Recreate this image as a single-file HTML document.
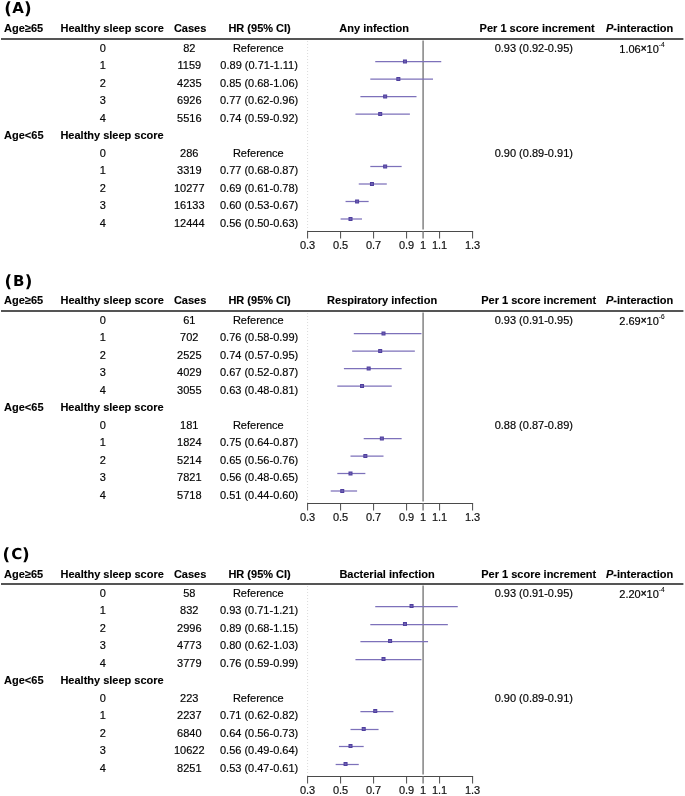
<!DOCTYPE html>
<html><head><meta charset="utf-8"><style>
html,body{margin:0;padding:0;background:#fff;}
body{width:685px;height:796px;overflow:hidden;}
svg{display:block;}
text{font-family:"Liberation Sans",Arial,sans-serif;fill:#000;}
.lab{font-family:"DejaVu Sans","Liberation Sans",sans-serif;font-weight:bold;font-size:15px;fill:#000;text-rendering:geometricPrecision;}
.h{font-weight:bold;font-size:11px;stroke:#000;stroke-width:0.12px;}
.b{font-size:11px;stroke:#111;stroke-width:0.18px;}
.t{font-size:11px;fill:#111;stroke:#111;stroke-width:0.18px;}
.par{font-size:16.7px;}
.m{text-anchor:middle;}
.x{font-size:10px;stroke-width:0.45px;}
.sup{font-size:6.5px;stroke-width:0.1px;}
</style></head><body>
<svg width="685" height="796" viewBox="0 0 685 796">
<rect width="685" height="796" fill="#fff"/>
<g transform="translate(0,0)">
<text class="lab par" x="4.3" y="14.0">(</text>
<text class="lab" x="12.2" y="12.8">A</text>
<text class="lab par" x="23.9" y="14.0">)</text>
<text class="h" x="4.1" y="32">Age≥65</text>
<text class="h m" x="112.2" y="32">Healthy sleep score</text>
<text class="h m" x="190.1" y="32">Cases</text>
<text class="h m" x="259.6" y="32">HR (95% CI)</text>
<text class="h" x="339.3" y="32">Any infection</text>
<text class="h m" x="537.1" y="32">Per 1 score increment</text>
<text class="h" x="606.0" y="32"><tspan font-style="italic">P</tspan>-interaction</text>
<rect x="1" y="38" width="682.4" height="2" fill="#555"/>
<line x1="307.6" y1="41" x2="307.6" y2="231.5" stroke="#d0d0d0" stroke-width="0.8" stroke-dasharray="1 2"/>
<line x1="423.1" y1="40.5" x2="423.1" y2="229.5" stroke="#8a8a8a" stroke-width="1.6"/>
<line x1="307.1" y1="231.5" x2="473.1" y2="231.5" stroke="#4a4a4a" stroke-width="1"/>
<line x1="307.6" y1="231.5" x2="307.6" y2="238.5" stroke="#4a4a4a" stroke-width="1"/>
<text class="t m" x="307.6" y="248.5">0.3</text>
<line x1="340.6" y1="231.5" x2="340.6" y2="238.5" stroke="#4a4a4a" stroke-width="1"/>
<text class="t m" x="340.6" y="248.5">0.5</text>
<line x1="373.6" y1="231.5" x2="373.6" y2="238.5" stroke="#4a4a4a" stroke-width="1"/>
<text class="t m" x="373.6" y="248.5">0.7</text>
<line x1="406.6" y1="231.5" x2="406.6" y2="238.5" stroke="#4a4a4a" stroke-width="1"/>
<text class="t m" x="406.6" y="248.5">0.9</text>
<line x1="423.1" y1="231.5" x2="423.1" y2="238.5" stroke="#8a8a8a" stroke-width="1.6"/>
<text class="t m" x="423.1" y="248.5">1</text>
<line x1="439.6" y1="231.5" x2="439.6" y2="238.5" stroke="#4a4a4a" stroke-width="1"/>
<text class="t m" x="439.6" y="248.5">1.1</text>
<line x1="472.6" y1="231.5" x2="472.6" y2="238.5" stroke="#4a4a4a" stroke-width="1"/>
<text class="t m" x="472.6" y="248.5">1.3</text>
<text class="b m" x="102.7" y="52">0</text>
<text class="b m" x="189.3" y="52">82</text>
<text class="b m" x="258.3" y="52">Reference</text>
<text class="b m" x="533.8" y="52">0.93 (0.92-0.95)</text>
<text class="b" x="619.3" y="52.9">1.06<tspan class="x" dy="-0.9">×</tspan><tspan dy="0.9">10</tspan><tspan class="sup" dy="-5.8">-4</tspan></text>
<text class="b m" x="102.7" y="69">1</text>
<text class="b m" x="189.3" y="69">1159</text>
<text class="b m" x="259.1" y="69">0.89 (0.71-1.11)</text>
<line x1="375.25" y1="61.5" x2="441.25" y2="61.5" stroke="#7d71ba" stroke-width="1.25"/>
<rect x="403.45" y="60" width="3" height="3" fill="#6e60b2" stroke="#4f3f9e" stroke-width="1"/>
<text class="b m" x="102.7" y="87">2</text>
<text class="b m" x="189.3" y="87">4235</text>
<text class="b m" x="259.1" y="87">0.85 (0.68-1.06)</text>
<line x1="370.3" y1="79" x2="433" y2="79" stroke="#7d71ba" stroke-width="1.25"/>
<rect x="396.85" y="77.5" width="3" height="3" fill="#6e60b2" stroke="#4f3f9e" stroke-width="1"/>
<text class="b m" x="102.7" y="104">3</text>
<text class="b m" x="189.3" y="104">6926</text>
<text class="b m" x="259.1" y="104">0.77 (0.62-0.96)</text>
<line x1="360.4" y1="96.5" x2="416.5" y2="96.5" stroke="#7d71ba" stroke-width="1.25"/>
<rect x="383.65" y="95" width="3" height="3" fill="#6e60b2" stroke="#4f3f9e" stroke-width="1"/>
<text class="b m" x="102.7" y="122">4</text>
<text class="b m" x="189.3" y="122">5516</text>
<text class="b m" x="259.1" y="122">0.74 (0.59-0.92)</text>
<line x1="355.45" y1="114" x2="409.9" y2="114" stroke="#7d71ba" stroke-width="1.25"/>
<rect x="378.7" y="112.5" width="3" height="3" fill="#6e60b2" stroke="#4f3f9e" stroke-width="1"/>
<text class="h" x="4.1" y="139">Age&lt;65</text>
<text class="h" x="60.400000000000006" y="139">Healthy sleep score</text>
<text class="b m" x="102.7" y="157">0</text>
<text class="b m" x="189.3" y="157">286</text>
<text class="b m" x="258.3" y="157">Reference</text>
<text class="b m" x="533.8" y="157">0.90 (0.89-0.91)</text>
<text class="b m" x="102.7" y="174">1</text>
<text class="b m" x="189.3" y="174">3319</text>
<text class="b m" x="259.1" y="174">0.77 (0.68-0.87)</text>
<line x1="370.3" y1="166.5" x2="401.65" y2="166.5" stroke="#7d71ba" stroke-width="1.25"/>
<rect x="383.65" y="165" width="3" height="3" fill="#6e60b2" stroke="#4f3f9e" stroke-width="1"/>
<text class="b m" x="102.7" y="192">2</text>
<text class="b m" x="189.3" y="192">10277</text>
<text class="b m" x="259.1" y="192">0.69 (0.61-0.78)</text>
<line x1="358.75" y1="184" x2="386.8" y2="184" stroke="#7d71ba" stroke-width="1.25"/>
<rect x="370.45" y="182.5" width="3" height="3" fill="#6e60b2" stroke="#4f3f9e" stroke-width="1"/>
<text class="b m" x="102.7" y="209">3</text>
<text class="b m" x="189.3" y="209">16133</text>
<text class="b m" x="259.1" y="209">0.60 (0.53-0.67)</text>
<line x1="345.55" y1="201.5" x2="368.65" y2="201.5" stroke="#7d71ba" stroke-width="1.25"/>
<rect x="355.6" y="200" width="3" height="3" fill="#6e60b2" stroke="#4f3f9e" stroke-width="1"/>
<text class="b m" x="102.7" y="227">4</text>
<text class="b m" x="189.3" y="227">12444</text>
<text class="b m" x="259.1" y="227">0.56 (0.50-0.63)</text>
<line x1="340.6" y1="219" x2="362.05" y2="219" stroke="#7d71ba" stroke-width="1.25"/>
<rect x="349" y="217.5" width="3" height="3" fill="#6e60b2" stroke="#4f3f9e" stroke-width="1"/>
</g>
<g transform="translate(0,272)">
<text class="lab par" x="4.6" y="14.9">(</text>
<text class="lab" x="13.1" y="13.9">B</text>
<text class="lab par" x="24.7" y="14.9">)</text>
<text class="h" x="4.1" y="32">Age≥65</text>
<text class="h m" x="112.2" y="32">Healthy sleep score</text>
<text class="h m" x="190.1" y="32">Cases</text>
<text class="h m" x="259.6" y="32">HR (95% CI)</text>
<text class="h" x="327.1" y="32">Respiratory infection</text>
<text class="h m" x="538.7" y="32">Per 1 score increment</text>
<text class="h" x="606.0" y="32"><tspan font-style="italic">P</tspan>-interaction</text>
<rect x="1" y="38" width="682.4" height="2" fill="#555"/>
<line x1="307.6" y1="41" x2="307.6" y2="231.5" stroke="#d0d0d0" stroke-width="0.8" stroke-dasharray="1 2"/>
<line x1="423.1" y1="40.5" x2="423.1" y2="229.5" stroke="#8a8a8a" stroke-width="1.6"/>
<line x1="307.1" y1="231.5" x2="473.1" y2="231.5" stroke="#4a4a4a" stroke-width="1"/>
<line x1="307.6" y1="231.5" x2="307.6" y2="238.5" stroke="#4a4a4a" stroke-width="1"/>
<text class="t m" x="307.6" y="248.5">0.3</text>
<line x1="340.6" y1="231.5" x2="340.6" y2="238.5" stroke="#4a4a4a" stroke-width="1"/>
<text class="t m" x="340.6" y="248.5">0.5</text>
<line x1="373.6" y1="231.5" x2="373.6" y2="238.5" stroke="#4a4a4a" stroke-width="1"/>
<text class="t m" x="373.6" y="248.5">0.7</text>
<line x1="406.6" y1="231.5" x2="406.6" y2="238.5" stroke="#4a4a4a" stroke-width="1"/>
<text class="t m" x="406.6" y="248.5">0.9</text>
<line x1="423.1" y1="231.5" x2="423.1" y2="238.5" stroke="#8a8a8a" stroke-width="1.6"/>
<text class="t m" x="423.1" y="248.5">1</text>
<line x1="439.6" y1="231.5" x2="439.6" y2="238.5" stroke="#4a4a4a" stroke-width="1"/>
<text class="t m" x="439.6" y="248.5">1.1</text>
<line x1="472.6" y1="231.5" x2="472.6" y2="238.5" stroke="#4a4a4a" stroke-width="1"/>
<text class="t m" x="472.6" y="248.5">1.3</text>
<text class="b m" x="102.7" y="52">0</text>
<text class="b m" x="189.3" y="52">61</text>
<text class="b m" x="258.3" y="52">Reference</text>
<text class="b m" x="533.8" y="52">0.93 (0.91-0.95)</text>
<text class="b" x="619.3" y="52.9">2.69<tspan class="x" dy="-0.9">×</tspan><tspan dy="0.9">10</tspan><tspan class="sup" dy="-5.8">-6</tspan></text>
<text class="b m" x="102.7" y="69">1</text>
<text class="b m" x="189.3" y="69">702</text>
<text class="b m" x="259.1" y="69">0.76 (0.58-0.99)</text>
<line x1="353.8" y1="61.5" x2="421.45" y2="61.5" stroke="#7d71ba" stroke-width="1.25"/>
<rect x="382" y="60" width="3" height="3" fill="#6e60b2" stroke="#4f3f9e" stroke-width="1"/>
<text class="b m" x="102.7" y="87">2</text>
<text class="b m" x="189.3" y="87">2525</text>
<text class="b m" x="259.1" y="87">0.74 (0.57-0.95)</text>
<line x1="352.15" y1="79" x2="414.85" y2="79" stroke="#7d71ba" stroke-width="1.25"/>
<rect x="378.7" y="77.5" width="3" height="3" fill="#6e60b2" stroke="#4f3f9e" stroke-width="1"/>
<text class="b m" x="102.7" y="104">3</text>
<text class="b m" x="189.3" y="104">4029</text>
<text class="b m" x="259.1" y="104">0.67 (0.52-0.87)</text>
<line x1="343.9" y1="96.5" x2="401.65" y2="96.5" stroke="#7d71ba" stroke-width="1.25"/>
<rect x="367.15" y="95" width="3" height="3" fill="#6e60b2" stroke="#4f3f9e" stroke-width="1"/>
<text class="b m" x="102.7" y="122">4</text>
<text class="b m" x="189.3" y="122">3055</text>
<text class="b m" x="259.1" y="122">0.63 (0.48-0.81)</text>
<line x1="337.3" y1="114" x2="391.75" y2="114" stroke="#7d71ba" stroke-width="1.25"/>
<rect x="360.55" y="112.5" width="3" height="3" fill="#6e60b2" stroke="#4f3f9e" stroke-width="1"/>
<text class="h" x="4.1" y="139">Age&lt;65</text>
<text class="h" x="60.400000000000006" y="139">Healthy sleep score</text>
<text class="b m" x="102.7" y="157">0</text>
<text class="b m" x="189.3" y="157">181</text>
<text class="b m" x="258.3" y="157">Reference</text>
<text class="b m" x="533.8" y="157">0.88 (0.87-0.89)</text>
<text class="b m" x="102.7" y="174">1</text>
<text class="b m" x="189.3" y="174">1824</text>
<text class="b m" x="259.1" y="174">0.75 (0.64-0.87)</text>
<line x1="363.7" y1="166.5" x2="401.65" y2="166.5" stroke="#7d71ba" stroke-width="1.25"/>
<rect x="380.35" y="165" width="3" height="3" fill="#6e60b2" stroke="#4f3f9e" stroke-width="1"/>
<text class="b m" x="102.7" y="192">2</text>
<text class="b m" x="189.3" y="192">5214</text>
<text class="b m" x="259.1" y="192">0.65 (0.56-0.76)</text>
<line x1="350.5" y1="184" x2="383.5" y2="184" stroke="#7d71ba" stroke-width="1.25"/>
<rect x="363.85" y="182.5" width="3" height="3" fill="#6e60b2" stroke="#4f3f9e" stroke-width="1"/>
<text class="b m" x="102.7" y="209">3</text>
<text class="b m" x="189.3" y="209">7821</text>
<text class="b m" x="259.1" y="209">0.56 (0.48-0.65)</text>
<line x1="337.3" y1="201.5" x2="365.35" y2="201.5" stroke="#7d71ba" stroke-width="1.25"/>
<rect x="349" y="200" width="3" height="3" fill="#6e60b2" stroke="#4f3f9e" stroke-width="1"/>
<text class="b m" x="102.7" y="227">4</text>
<text class="b m" x="189.3" y="227">5718</text>
<text class="b m" x="259.1" y="227">0.51 (0.44-0.60)</text>
<line x1="330.7" y1="219" x2="357.1" y2="219" stroke="#7d71ba" stroke-width="1.25"/>
<rect x="340.75" y="217.5" width="3" height="3" fill="#6e60b2" stroke="#4f3f9e" stroke-width="1"/>
</g>
<g transform="translate(0,545)">
<text class="lab par" x="2.6" y="14.6">(</text>
<text class="lab" x="11.2" y="13.5">C</text>
<text class="lab par" x="22.0" y="14.6">)</text>
<text class="h" x="4.1" y="33">Age≥65</text>
<text class="h m" x="112.2" y="33">Healthy sleep score</text>
<text class="h m" x="190.1" y="33">Cases</text>
<text class="h m" x="259.6" y="33">HR (95% CI)</text>
<text class="h" x="339.4" y="33">Bacterial infection</text>
<text class="h m" x="538.7" y="33">Per 1 score increment</text>
<text class="h" x="606.0" y="33"><tspan font-style="italic">P</tspan>-interaction</text>
<rect x="1" y="38" width="682.4" height="2" fill="#555"/>
<line x1="307.6" y1="41" x2="307.6" y2="231.5" stroke="#d0d0d0" stroke-width="0.8" stroke-dasharray="1 2"/>
<line x1="423.1" y1="40.5" x2="423.1" y2="229.5" stroke="#8a8a8a" stroke-width="1.6"/>
<line x1="307.1" y1="231.5" x2="473.1" y2="231.5" stroke="#4a4a4a" stroke-width="1"/>
<line x1="307.6" y1="231.5" x2="307.6" y2="238.5" stroke="#4a4a4a" stroke-width="1"/>
<text class="t m" x="307.6" y="248.5">0.3</text>
<line x1="340.6" y1="231.5" x2="340.6" y2="238.5" stroke="#4a4a4a" stroke-width="1"/>
<text class="t m" x="340.6" y="248.5">0.5</text>
<line x1="373.6" y1="231.5" x2="373.6" y2="238.5" stroke="#4a4a4a" stroke-width="1"/>
<text class="t m" x="373.6" y="248.5">0.7</text>
<line x1="406.6" y1="231.5" x2="406.6" y2="238.5" stroke="#4a4a4a" stroke-width="1"/>
<text class="t m" x="406.6" y="248.5">0.9</text>
<line x1="423.1" y1="231.5" x2="423.1" y2="238.5" stroke="#8a8a8a" stroke-width="1.6"/>
<text class="t m" x="423.1" y="248.5">1</text>
<line x1="439.6" y1="231.5" x2="439.6" y2="238.5" stroke="#4a4a4a" stroke-width="1"/>
<text class="t m" x="439.6" y="248.5">1.1</text>
<line x1="472.6" y1="231.5" x2="472.6" y2="238.5" stroke="#4a4a4a" stroke-width="1"/>
<text class="t m" x="472.6" y="248.5">1.3</text>
<text class="b m" x="102.7" y="52">0</text>
<text class="b m" x="189.3" y="52">58</text>
<text class="b m" x="258.3" y="52">Reference</text>
<text class="b m" x="533.8" y="52">0.93 (0.91-0.95)</text>
<text class="b" x="619.3" y="52.9">2.20<tspan class="x" dy="-0.9">×</tspan><tspan dy="0.9">10</tspan><tspan class="sup" dy="-5.8">-4</tspan></text>
<text class="b m" x="102.7" y="69">1</text>
<text class="b m" x="189.3" y="69">832</text>
<text class="b m" x="259.1" y="69">0.93 (0.71-1.21)</text>
<line x1="375.25" y1="61.5" x2="457.75" y2="61.5" stroke="#7d71ba" stroke-width="1.25"/>
<rect x="410.05" y="59.5" width="3" height="3" fill="#6e60b2" stroke="#4f3f9e" stroke-width="1"/>
<text class="b m" x="102.7" y="87">2</text>
<text class="b m" x="189.3" y="87">2996</text>
<text class="b m" x="259.1" y="87">0.89 (0.68-1.15)</text>
<line x1="370.3" y1="79.5" x2="447.85" y2="79.5" stroke="#7d71ba" stroke-width="1.25"/>
<rect x="403.45" y="77.5" width="3" height="3" fill="#6e60b2" stroke="#4f3f9e" stroke-width="1"/>
<text class="b m" x="102.7" y="104">3</text>
<text class="b m" x="189.3" y="104">4773</text>
<text class="b m" x="259.1" y="104">0.80 (0.62-1.03)</text>
<line x1="360.4" y1="96.5" x2="428.05" y2="96.5" stroke="#7d71ba" stroke-width="1.25"/>
<rect x="388.6" y="94.5" width="3" height="3" fill="#6e60b2" stroke="#4f3f9e" stroke-width="1"/>
<text class="b m" x="102.7" y="122">4</text>
<text class="b m" x="189.3" y="122">3779</text>
<text class="b m" x="259.1" y="122">0.76 (0.59-0.99)</text>
<line x1="355.45" y1="114.5" x2="421.45" y2="114.5" stroke="#7d71ba" stroke-width="1.25"/>
<rect x="382" y="112.5" width="3" height="3" fill="#6e60b2" stroke="#4f3f9e" stroke-width="1"/>
<text class="h" x="4.1" y="139">Age&lt;65</text>
<text class="h" x="60.400000000000006" y="139">Healthy sleep score</text>
<text class="b m" x="102.7" y="157">0</text>
<text class="b m" x="189.3" y="157">223</text>
<text class="b m" x="258.3" y="157">Reference</text>
<text class="b m" x="533.8" y="157">0.90 (0.89-0.91)</text>
<text class="b m" x="102.7" y="174">1</text>
<text class="b m" x="189.3" y="174">2237</text>
<text class="b m" x="259.1" y="174">0.71 (0.62-0.82)</text>
<line x1="360.4" y1="166.5" x2="393.4" y2="166.5" stroke="#7d71ba" stroke-width="1.25"/>
<rect x="373.75" y="164.5" width="3" height="3" fill="#6e60b2" stroke="#4f3f9e" stroke-width="1"/>
<text class="b m" x="102.7" y="192">2</text>
<text class="b m" x="189.3" y="192">6840</text>
<text class="b m" x="259.1" y="192">0.64 (0.56-0.73)</text>
<line x1="350.5" y1="184.5" x2="378.55" y2="184.5" stroke="#7d71ba" stroke-width="1.25"/>
<rect x="362.2" y="182.5" width="3" height="3" fill="#6e60b2" stroke="#4f3f9e" stroke-width="1"/>
<text class="b m" x="102.7" y="209">3</text>
<text class="b m" x="189.3" y="209">10622</text>
<text class="b m" x="259.1" y="209">0.56 (0.49-0.64)</text>
<line x1="338.95" y1="201.5" x2="363.7" y2="201.5" stroke="#7d71ba" stroke-width="1.25"/>
<rect x="349" y="199.5" width="3" height="3" fill="#6e60b2" stroke="#4f3f9e" stroke-width="1"/>
<text class="b m" x="102.7" y="227">4</text>
<text class="b m" x="189.3" y="227">8251</text>
<text class="b m" x="259.1" y="227">0.53 (0.47-0.61)</text>
<line x1="335.65" y1="219.5" x2="358.75" y2="219.5" stroke="#7d71ba" stroke-width="1.25"/>
<rect x="344.05" y="217.5" width="3" height="3" fill="#6e60b2" stroke="#4f3f9e" stroke-width="1"/>
</g>
</svg>
</body></html>
